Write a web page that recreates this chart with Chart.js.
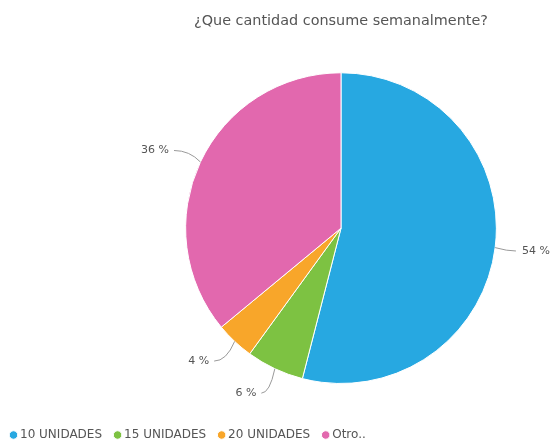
<!DOCTYPE html>
<html>
<head>
<meta charset="utf-8">
<script src="https://cdn.jsdelivr.net/npm/chart.js@4"></script>
<style>
  html, body { margin: 0; padding: 0; background: #fff; }
  canvas { display: block; }
</style>
</head>
<body>
<canvas id="consumo" width="554" height="444"></canvas>
<script>
var categorias = ['10 UNIDADES', '15 UNIDADES', '20 UNIDADES', 'Otro..'];
var porcentajes = [54, 6, 4, 36];
var colores = ['#27A8E1', '#7DC242', '#F8A62A', '#E268AE'];
var titulo = '¿Que cantidad consume semanalmente?';

// percentage outside each slice, joined to it by a small curved line
var etiquetas = {
	id: 'etiquetas',
	afterDatasetsDraw: function (chart) {
		var ctx = chart.ctx;
		var meta = chart.getDatasetMeta(0);
		ctx.save();
		ctx.font = '11px "DejaVu Sans"';
		ctx.fillStyle = '#555';
		ctx.strokeStyle = '#999';
		ctx.lineWidth = 1;
		ctx.textBaseline = 'middle';
		meta.data.forEach(function (arc, i) {
			var p = arc.getProps(['x', 'y', 'startAngle', 'endAngle', 'outerRadius']);
			var mid = (p.startAngle + p.endAngle) / 2;
			var dx = Math.cos(mid), dy = Math.sin(mid);
			var ex = p.x + p.outerRadius * dx, ey = p.y + p.outerRadius * dy;
			var lx = p.x + (p.outerRadius + 27) * dx, ly = p.y + (p.outerRadius + 27) * dy;
			var derecha = dx >= 0;
			var sx = derecha ? lx - 6 : lx - 2;
			ctx.beginPath();
			ctx.moveTo(ex, ey);
			ctx.quadraticCurveTo(ex + dx * 12, ly, sx, ly);
			ctx.stroke();
			ctx.textAlign = derecha ? 'left' : 'right';
			ctx.fillText(porcentajes[i] + ' %', derecha ? lx : lx - 7, ly);
		});
		ctx.restore();
	}
};

// the legend sits on the left edge, under everything, not under the pie
var leyendaAbajo = {
	id: 'leyendaAbajo',
	afterLayout: function (chart) {
		var lg = chart.legend;
		lg.left = -2;
		lg.right = chart.width;
		lg.top = chart.height - lg.height + 7;
		lg.bottom = lg.top + lg.height;
	}
};

var config = {
	type: 'pie',
	data: {
		labels: categorias,
		datasets: [{
			data: porcentajes,
			backgroundColor: colores,
			borderColor: '#fff',
			borderWidth: 1
		}]
	},
	options: {
		responsive: false,
		animation: false,
		layout: {
			padding: { left: 128, bottom: 23 }
		},
		plugins: {
			title: {
				display: true,
				text: titulo,
				fullSize: false,
				color: '#555',
				font: { family: 'DejaVu Sans', size: 14.4, weight: 'normal' },
				padding: { top: 13, bottom: 42 }
			},
			legend: {
				position: 'bottom',
				align: 'start',
				labels: {
					usePointStyle: true,
					pointStyle: 'circle',
					boxWidth: 1,
					boxHeight: 6,
					padding: 15,
					color: '#555',
					font: { family: 'DejaVu Sans', size: 12 }
				}
			},
			tooltip: { enabled: false }
		}
	},
	plugins: [etiquetas, leyendaAbajo]
};

var ctx = document.getElementById('consumo').getContext('2d');
window.myPie = new Chart(ctx, config);
</script>
</body>
</html>
